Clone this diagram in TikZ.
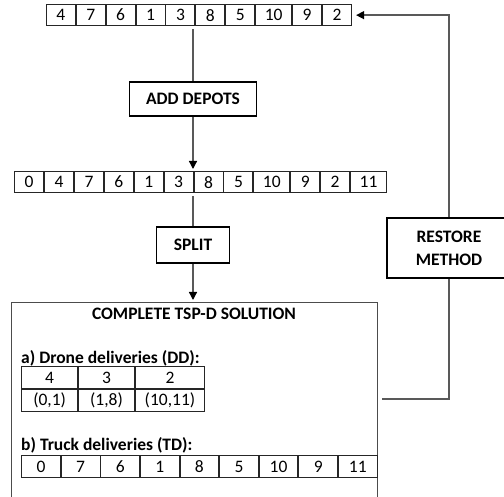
\documentclass[tikz,border=0pt]{standalone}
\usepackage{fontspec}
\setmainfont{Carlito}
\usepackage{tikz}
\usetikzlibrary{arrows.meta}

\begin{document}
\begin{tikzpicture}[
  x=1pt,y=-1pt,
  font=\fontsize{17.5}{23}\selectfont,
  every matrix/.style={ampersand replacement=\&,column sep=0pt,row sep=0pt,inner sep=0pt},
  cell/.style={draw=black!85,line width=0.9pt,minimum width=29pt,minimum height=21pt,inner sep=0pt},
  wide/.style={cell,minimum width=36pt},
  ddcell/.style={cell,minimum width=56pt,minimum height=22pt},
  tdcell/.style={cell,minimum width=38.7pt,minimum height=22pt},
  block/.style={draw=black,line width=1.7pt,fill=white,inner sep=0pt,font=\fontsize{17.5}{23}\selectfont\bfseries},
  panel/.style={draw=black!70,line width=1.3pt},
  subhead/.style={inner sep=2pt,font=\fontsize{17.5}{23}\selectfont\bfseries},
  line/.style={draw=black!65,line width=1.3pt},
  flow/.style={line,-{Triangle[length=8pt,width=8pt,color=black]},shorten >=2pt},
  every node/.style={align=center}]

  \useasboundingbox (0,0) rectangle (504,497);
  \clip (0,0) rectangle (504,497);

  % Arrays of the tour, before and after the depots are added
  \matrix (top) [anchor=north west] at (45.7,4) {
    \node[cell] (t1) {4}; \& \node[cell] (t2) {7}; \& \node[cell] (t3) {6}; \& \node[cell] (t4) {1}; \&
    \node[cell] (t5) {3}; \& \node[cell] (t6) {8}; \& \node[cell] (t7) {5}; \& \node[wide] (t8) {10}; \&
    \node[cell] (t9) {9}; \& \node[cell] (t10) {2}; \\
  };
  \node[block,minimum width=127pt,minimum height=34pt] (adddepots) at (193,99) {ADD DEPOTS};
  \matrix (mid) [anchor=north west] at (14,171) {
    \node[cell] (m1) {0}; \& \node[cell] (m2) {4}; \& \node[cell] (m3) {7}; \& \node[cell] (m4) {6}; \&
    \node[cell] (m5) {1}; \& \node[cell] (m6) {3}; \& \node[cell] (m7) {8}; \& \node[cell] (m8) {5}; \&
    \node[wide] (m9) {10}; \& \node[cell] (m10) {9}; \& \node[cell] (m11) {2}; \& \node[wide] (m12) {11}; \\
  };
  \node[block,minimum width=73pt,minimum height=36pt] (split) at (193,245) {SPLIT};

  % The solution box runs past the lower edge
  \node[panel,anchor=north west,minimum width=366pt,minimum height=240pt] (solution) at (11,302) {};
  \node[subhead] (title) at (194,314) {COMPLETE TSP-D SOLUTION};
  \node[subhead,anchor=west] (ddhead) at (19,358) {a) Drone deliveries (DD):};
  \matrix (dd) [anchor=north west] at (21,366) {
    \node[ddcell] (d1) {4}; \& \node[ddcell] (d2) {3}; \& \node[ddcell,minimum width=69pt] (d3) {2}; \\
    \node[ddcell] (e1) {(0,1)}; \& \node[ddcell] (e2) {(1,8)}; \& \node[ddcell,minimum width=69pt] (e3) {(10,11)}; \\
  };
  \node[subhead,anchor=west] (tdhead) at (19,445) {b) Truck deliveries (TD):};
  \matrix (td) [anchor=north west] at (21,455) {
    \node[tdcell] (r1) {0}; \& \node[tdcell] (r2) {7}; \& \node[tdcell] (r3) {6}; \& \node[tdcell] (r4) {1}; \&
    \node[tdcell] (r5) {8}; \& \node[tdcell] (r6) {5}; \& \node[tdcell] (r7) {10}; \& \node[tdcell] (r8) {9}; \&
    \node[tdcell] (r9) {11}; \\
  };

  \node[block,minimum width=124pt,minimum height=60pt] (restore) at (449,248) {RESTORE\\METHOD};
  \coordinate (out) at (382,399);

  % Connectors
  \draw[line,shorten <=3pt] (top.south -| adddepots) -- (adddepots);
  \draw[flow] (adddepots) -- (adddepots |- mid.north);
  \draw[line,shorten <=3pt] (mid.south -| split) -- (split);
  \draw[flow] (split) -- (split |- solution.north);
  \draw[line] (out) -| (restore);
  \draw[flow,shorten >=4pt] (restore) |- (top.east);
\end{tikzpicture}
\end{document}
